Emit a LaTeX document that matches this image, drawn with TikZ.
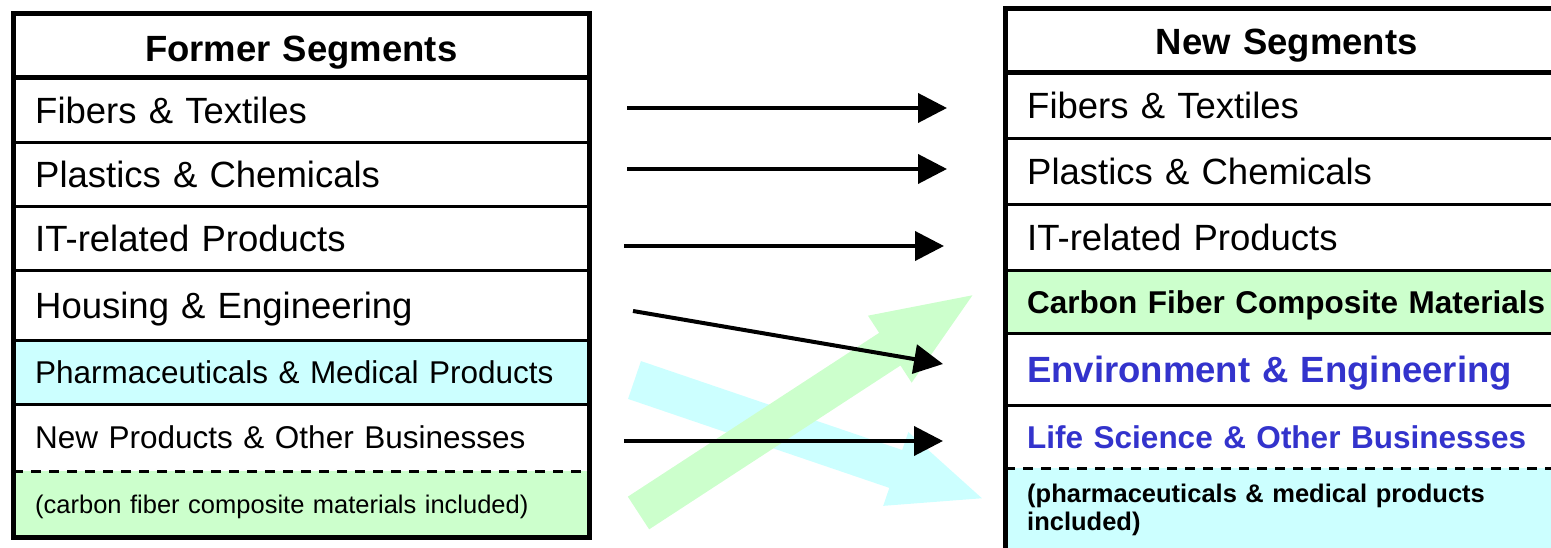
\documentclass[tikz,border=0pt]{standalone}
\usepackage{fontspec}
\setmainfont{Liberation Sans}
\usetikzlibrary{arrows.meta}

\definecolor{paleGreen}{HTML}{CCFFCC}
\definecolor{paleCyan}{HTML}{CCFFFF}
\definecolor{segBlue}{HTML}{3333CC}

\tikzset{
  segrow/.style={anchor=north west, inner xsep=22pt, inner ysep=0pt, align=left, text depth=0pt},
  segleft/.style={segrow, text width=532pt},
  segright/.style={segrow, text width=530pt},
  bigtext/.style={font=\fontsize{36.5}{42}\selectfont, text height=26.1pt},
  midtext/.style={font=\fontsize{31.5}{36}\selectfont, text height=22.6pt},
  smalltext/.style={font=\fontsize{25.5}{28.3}\selectfont, text height=18.3pt},
  frame/.style={line width=5pt},
  sep/.style={line width=3pt},
  link/.style={line width=4pt, -{Triangle[length=29pt,width=29pt]}},
}

\begin{document}
\begin{tikzpicture}[x=1pt,y=-1pt]
\clip (0,0) rectangle (1551,548);

% former segments
\node[segleft, align=center, bigtext, text height=31.6pt, minimum height=63.4pt] (L0) at (13,14) {\textbf{Former Segments}};
\node[segleft, bigtext, minimum height=64.8pt] (L1) at (13,77.4) {Fibers \& Textiles};
\node[segleft, bigtext, minimum height=64.1pt] (L2) at (13,142.2) {Plastics \& Chemicals};
\node[segleft, bigtext, minimum height=64pt] (L3) at (13,206.3) {IT-related Products};
\node[segleft, bigtext, minimum height=69.3pt] (L4) at (13,270.3) {Housing \& Engineering};
\node[segleft, midtext, fill=paleCyan, minimum height=64.1pt] (L5) at (13,339.6) {Pharmaceuticals \& Medical Products};
\node[segleft, midtext, minimum height=67.5pt] (L6) at (13,403.7) {New Products \& Other Businesses};
\node[segleft, smalltext, fill=paleGreen, minimum height=65.8pt] (L7) at (13,471.2) {(carbon fiber composite materials included)};

% new segments
\node[segright, align=center, bigtext, text height=28pt, minimum height=63pt, text width=519pt] (R0) at (1005,9) {\textbf{New Segments}};
\node[segright, bigtext, minimum height=66pt] (R1) at (1005,72) {Fibers \& Textiles};
\node[segright, bigtext, minimum height=66pt] (R2) at (1005,138) {Plastics \& Chemicals};
\node[segright, bigtext, minimum height=66pt] (R3) at (1005,204) {IT-related Products};
\node[segright, midtext, fill=paleGreen, minimum height=63pt] (R4) at (1005,270) {\textbf{Carbon Fiber Composite Materials}};
\node[segright, bigtext, text=segBlue, minimum height=72pt] (R5) at (1005,333) {\textbf{Environment \& Engineering}};
\node[segright, midtext, text=segBlue, minimum height=63pt] (R6) at (1005,405) {\textbf{Life Science \& Other Businesses}};
\node[segright, smalltext, fill=paleCyan, minimum height=83pt, text depth=33.7pt] (R7) at (1005,468) {\textbf{(pharmaceuticals \& medical products}\\\textbf{included)}};

% wide shaded arrows
\begin{scope}[shift={(634.5,380)}, rotate=-18.8]
\fill[paleCyan] (0,-20) -- (276,-20) -- (276,-39) -- (367,0) -- (276,39) -- (276,20) -- (0,20) -- cycle;
\end{scope}
\begin{scope}[shift={(638.5,513)}, rotate=33.1]
\fill[paleGreen] (0,-19.5) -- (300,-19.5) -- (300,-40) -- (398.7,0) -- (300,40) -- (300,19.5) -- (0,19.5) -- cycle;
\end{scope}

% segment arrows
\coordinate (a1s) at (627,108);
\coordinate (a1e) at (947,108);
\coordinate (a2s) at (627,169);
\coordinate (a2e) at (947,169);
\coordinate (a3s) at (624,246);
\coordinate (a3e) at (944,246);
\coordinate (a4s) at (633,311);
\coordinate (a4e) at (943,364);
\coordinate (a5s) at (624,441);
\coordinate (a5e) at (943,441);
\foreach \i in {1,...,5}
  \draw[link] (a\i s) -- (a\i e);

% table rules
\foreach \i in {1,...,5} {
  \draw[sep] (L\i.south west) -- (L\i.south east);
  \draw[sep] (R\i.south west) -- (R\i.south east);
}
\draw[line width=2.5pt, dash pattern=on 10pt off 8pt] (L6.south west) -- (L6.south east);
\draw[line width=2.5pt, dash pattern=on 10pt off 8pt] (R6.south west) -- (R6.south east);
\draw[frame] (L0.south west) -- (L0.south east);
\draw[frame] (L0.north west) rectangle (L7.south east);
\draw[frame] (R0.south west) -- (R1.south east |- R0.south);
\draw[frame] (R7.south west) -- (R0.north west) -- (R1.north east |- R0.north);

\end{tikzpicture}
\end{document}
